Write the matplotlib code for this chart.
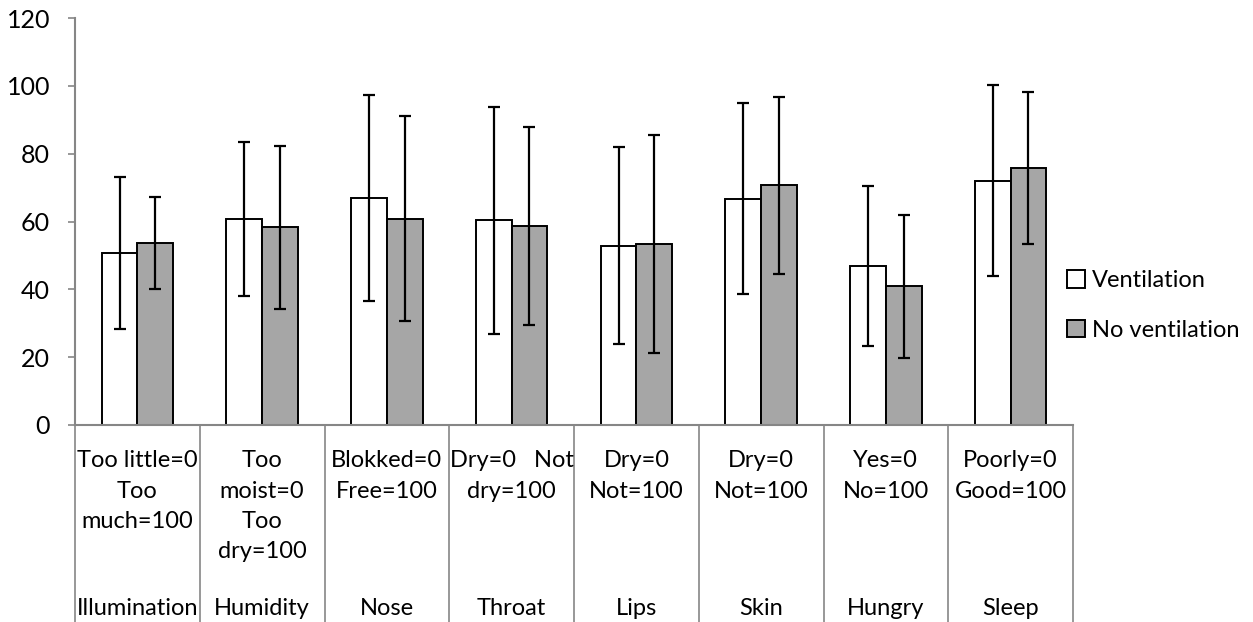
import matplotlib.pyplot as plt
import matplotlib.transforms as mtransforms
import numpy as np

# データ
categories = ['Illumination', 'Humidity', 'Nose', 'Throat', 'Lips', 'Skin', 'Hungry', 'Sleep']
scale_labels = ['Too little=0\nToo\nmuch=100', 'Too\nmoist=0\nToo\ndry=100',
                'Blokked=0\nFree=100', 'Dry=0   Not\ndry=100', 'Dry=0\nNot=100',
                'Dry=0\nNot=100', 'Yes=0\nNo=100', 'Poorly=0\nGood=100']
vent_mean = [50.6, 60.7, 67.0, 60.3, 52.9, 66.7, 47.0, 72.0]
vent_sd = [22.4, 22.7, 30.3, 33.5, 29.0, 28.1, 23.6, 28.2]
novent_mean = [53.7, 58.3, 60.8, 58.7, 53.3, 70.7, 40.9, 75.9]
novent_sd = [13.6, 24.1, 30.2, 29.2, 32.2, 26.1, 21.0, 22.4]
y_ticks = [0, 20, 40, 60, 80, 100, 120]

AXIS_GRAY = '#868686'
BAR_GRAY = '#A6A6A6'
FONT = 'Lato'
FS = 17

plt.rcParams['font.family'] = [FONT, 'DejaVu Sans']

fig = plt.figure(figsize=(12.53, 6.22), dpi=100)
ax = fig.add_axes([75 / 1253, 197 / 622, 998 / 1253, 407 / 622])

x = np.arange(len(categories))
w = 1 / 3.5  # gap width 150%

err_kw = dict(ecolor='black', elinewidth=1.6, capsize=4, capthick=1.6)
ax.bar(x - w / 2, vent_mean, w, yerr=vent_sd, color='white', edgecolor='black',
       linewidth=1.4, label='Ventilation', error_kw=err_kw, zorder=2)
ax.bar(x + w / 2, novent_mean, w, yerr=novent_sd, color=BAR_GRAY, edgecolor='black',
       linewidth=1.4, label='No ventilation', error_kw=err_kw, zorder=2)

ax.set_xlim(-0.5, len(categories) - 0.5)
ax.set_ylim(0, 120)
ax.set_yticks(y_ticks)
ax.tick_params(axis='y', length=5, width=1.2, color=AXIS_GRAY, labelsize=18, pad=13)

# X軸: カテゴリ境界に長い補助目盛り
ax.set_xticks([])
ax.set_xticks(np.arange(len(categories) + 1) - 0.5, minor=True)
ax.tick_params(axis='x', which='minor', length=142, width=1.2, color=AXIS_GRAY)

for side in ['top', 'right']:
    ax.spines[side].set_visible(False)
for side in ['left', 'bottom']:
    ax.spines[side].set_color(AXIS_GRAY)
    ax.spines[side].set_linewidth(1.5)

# 2段のカテゴリラベル
trans = mtransforms.blended_transform_factory(ax.transData, ax.transAxes)
for i in range(len(categories)):
    ax.text(x[i], -0.062, scale_labels[i], transform=trans, ha='center', va='top',
            fontsize=FS, linespacing=1.55, clip_on=False)
    ax.text(x[i], -0.452, categories[i], transform=trans, ha='center', va='center',
            fontsize=FS, clip_on=False)

ax.legend(loc='center left', bbox_to_anchor=(0.985, 0.294), frameon=False,
          fontsize=FS, handlelength=0.75, handleheight=0.75, handletextpad=0.3,
          labelspacing=1.2, borderaxespad=0)

fig.savefig('out.png', dpi=100)
